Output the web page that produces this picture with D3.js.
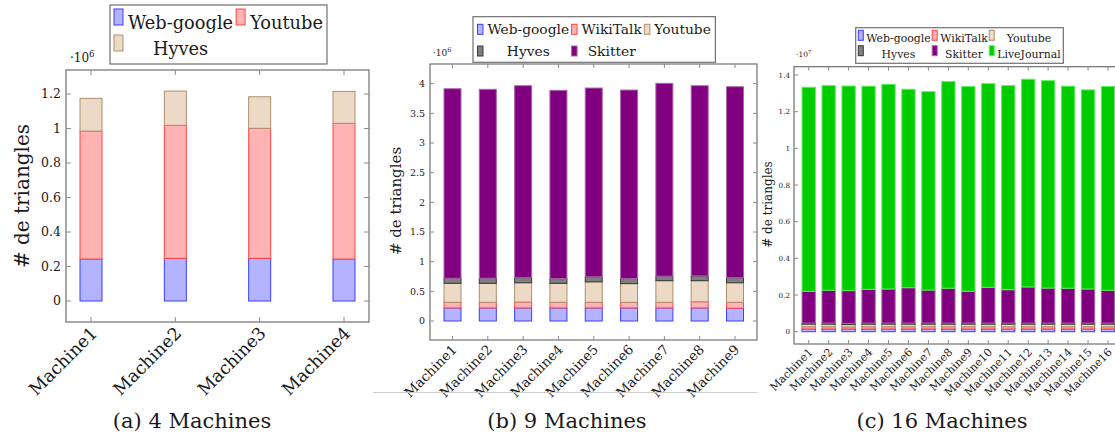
<!DOCTYPE html>
<html><head><meta charset="utf-8">
<script src="https://cdn.jsdelivr.net/npm/d3@7/dist/d3.min.js"></script>
<style>
body{margin:0;background:#fff}
svg{display:block}
text{font-family:"DejaVu Serif",serif;fill:#1a1a1a}
</style>
</head><body>
<svg id="chart" width="1115" height="438"></svg>
<script>
// ---------------- DATA ----------------
const machines4 = ["Machine1","Machine2","Machine3","Machine4"];
const machines9 = ["Machine1","Machine2","Machine3","Machine4","Machine5","Machine6","Machine7","Machine8","Machine9"];
const machines16 = ["Machine1","Machine2","Machine3","Machine4","Machine5","Machine6","Machine7","Machine8",
                    "Machine9","Machine10","Machine11","Machine12","Machine13","Machine14","Machine15","Machine16"];

// (a) 4 machines, values x10^6
const a_webgoogle = [0.243, 0.247, 0.247, 0.243];
const a_youtube   = [0.742, 0.771, 0.754, 0.787];
const a_hyves     = [0.190, 0.199, 0.183, 0.185];

// (b) 9 machines, values x10^6
const b_webgoogle = [0.220, 0.220, 0.220, 0.220, 0.220, 0.220, 0.220, 0.220, 0.215];
const b_wikitalk  = [0.095, 0.095, 0.100, 0.095, 0.095, 0.095, 0.095, 0.105, 0.100];
const b_youtube   = [0.320, 0.320, 0.325, 0.320, 0.345, 0.315, 0.365, 0.355, 0.330];
const b_hyves     = [0.085, 0.085, 0.085, 0.080, 0.085, 0.085, 0.075, 0.080, 0.085];
const b_skitter   = [3.195, 3.185, 3.236, 3.173, 3.182, 3.178, 3.251, 3.206, 3.219];

// (c) 16 machines, values x10^7
const c_webgoogle   = [0.015,0.015,0.015,0.015,0.015,0.015,0.015,0.015,0.015,0.015,0.015,0.015,0.015,0.015,0.015,0.015];
const c_wikitalk    = [0.012,0.012,0.011,0.012,0.012,0.012,0.012,0.012,0.012,0.012,0.012,0.012,0.012,0.012,0.012,0.012];
const c_youtube     = [0.014,0.014,0.013,0.014,0.014,0.014,0.014,0.014,0.014,0.014,0.014,0.014,0.014,0.014,0.014,0.014];
const c_hyves       = [0.006,0.006,0.006,0.006,0.006,0.006,0.006,0.006,0.006,0.006,0.006,0.006,0.006,0.006,0.006,0.006];
const c_skitter     = [0.173,0.179,0.179,0.184,0.186,0.193,0.180,0.190,0.173,0.195,0.182,0.197,0.191,0.190,0.186,0.179];
const c_livejournal = [1.113,1.116,1.116,1.108,1.116,1.082,1.082,1.127,1.117,1.111,1.113,1.133,1.131,1.102,1.086,1.111];

const ticksA = [0, 0.2, 0.4, 0.6, 0.8, 1, 1.2];
const ticksB = [0, 0.5, 1, 1.5, 2, 2.5, 3, 3.5, 4];
const ticksC = [0, 0.2, 0.4, 0.6, 0.8, 1, 1.2, 1.4];

const yTitle = "# de triangles";
const captions = ["(a) 4 Machines", "(b) 9 Machines", "(c) 16 Machines"];

// ---------------- STYLES ----------------
const STY = {
  blue:   {fill:"#b3b3ff", stroke:"#3d3dff"},
  red:    {fill:"#ffb3b3", stroke:"#ff4545"},
  brown:  {fill:"#ecd9c6", stroke:"#ad8f70"},
  gray:   {fill:"#7f7f7f", stroke:"#3a3a3a"},
  purple: {fill:"#800080", stroke:"#a866a8"},
  green:  {fill:"#00cc00", stroke:"#5cf05c"}
};

const svg = d3.select("#chart");

function drawPanel(cfg) {
  const g = svg.append("g");
  const f = cfg.frame;
  const y = d3.scaleLinear().domain(cfg.yDomain).range(cfg.yRange);
  const x = d3.scalePoint().domain(cfg.cats).range(cfg.xRange);

  const rows = cfg.cats.map((c, i) => {
    const r = {cat: c};
    cfg.series.forEach(s => r[s.name] = s.values[i]);
    return r;
  });
  const stack = d3.stack().keys(cfg.series.map(s => s.name))(rows);

  const clipId = "clip" + cfg.id;
  svg.append("clipPath").attr("id", clipId).append("rect")
    .attr("x", f.l).attr("y", f.t).attr("width", f.r - f.l).attr("height", f.b - f.t);

  const bars = g.append("g").attr("clip-path", `url(#${clipId})`);
  stack.forEach((layer, li) => {
    const s = cfg.series[li];
    bars.append("g").selectAll("rect").data(layer).join("rect")
      .attr("x", d => x(d.data.cat) - cfg.barW / 2)
      .attr("width", cfg.barW)
      .attr("y", d => y(d[1]))
      .attr("height", d => y(d[0]) - y(d[1]))
      .attr("fill", s.style.fill)
      .attr("stroke", s.style.stroke)
      .attr("stroke-width", 1);
  });

  const tickCol = "#8a8a8a";
  g.append("rect").attr("x", f.l).attr("y", f.t).attr("width", f.r - f.l).attr("height", f.b - f.t)
    .attr("fill", "none").attr("stroke", "#707070").attr("stroke-width", 1.2);

  const tl = cfg.tickLen;
  cfg.ticks.forEach(t => {
    const yy = y(t);
    g.append("line").attr("x1", f.l).attr("x2", f.l + tl).attr("y1", yy).attr("y2", yy).attr("stroke", tickCol);
    g.append("line").attr("x1", f.r - tl).attr("x2", f.r).attr("y1", yy).attr("y2", yy).attr("stroke", tickCol);
    g.append("text").attr("x", f.l - cfg.tickGap).attr("y", yy).attr("dy", "0.35em")
      .attr("text-anchor", "end").style("font-size", cfg.tickFont + "px").text(d3.format("~g")(t));
  });
  cfg.cats.forEach(c => {
    const xx = x(c);
    g.append("line").attr("x1", xx).attr("x2", xx).attr("y1", f.t).attr("y2", f.t + tl).attr("stroke", tickCol);
    g.append("line").attr("x1", xx).attr("x2", xx).attr("y1", f.b - tl).attr("y2", f.b).attr("stroke", tickCol);
    g.append("text")
      .attr("transform", `translate(${xx + cfg.xLab.dx},${f.b + cfg.xLab.dy}) rotate(-45)`)
      .attr("text-anchor", "end").attr("dy", "0.35em")
      .style("font-size", cfg.xLab.size + "px").text(c);
  });

  const ex = g.append("text").attr("x", cfg.exp.x).attr("y", cfg.exp.y).style("font-size", cfg.exp.size + "px");
  ex.append("tspan").text("·10");
  ex.append("tspan").attr("dy", -cfg.exp.size * 0.4).style("font-size", (cfg.exp.size * 0.72) + "px").text(cfg.exp.pow);

  g.append("text").attr("transform", `translate(${cfg.yLab.x},${cfg.yLab.y}) rotate(-90)`)
    .attr("text-anchor", "middle").attr("dy", "0.35em")
    .style("font-size", cfg.yLab.size + "px").text(yTitle);

  g.append("text").attr("x", cfg.caption.x).attr("y", cfg.caption.y).attr("text-anchor", "middle")
    .style("font-size", cfg.caption.size + "px").text(cfg.caption.text);

  const L = cfg.legend;
  const lg = g.append("g");
  const box = lg.append("rect").attr("fill", "#fff").attr("stroke", "#707070").attr("stroke-width", 1.2);
  const items = cfg.series.map((s, i) => ({s, col: i % L.cols, row: Math.floor(i / L.cols)}));
  items.forEach(it => {
    it.t = lg.append("text").style("font-size", L.size + "px").attr("text-anchor", "middle").text(it.s.name);
    it.w = it.t.node().getComputedTextLength();
  });
  const colW = d3.range(L.cols).map(c => d3.max(items.filter(it => it.col === c), it => it.w));
  let cur = L.x + L.pad;
  const colX = [];
  colW.forEach(w => { colX.push(cur); cur += L.sw + L.gap + w + L.colGap; });
  const right = cur - L.colGap + L.pad;
  items.forEach(it => {
    const cx = colX[it.col];
    const base = L.y + L.base0 + it.row * L.rowH;
    lg.append("rect").attr("x", cx).attr("y", base - L.swTop).attr("width", L.sw).attr("height", L.sh)
      .attr("fill", it.s.style.fill).attr("stroke", it.s.style.stroke).attr("stroke-width", 1);
    it.t.attr("x", cx + L.sw + L.gap + colW[it.col] / 2).attr("y", base);
  });
  box.attr("x", L.x).attr("y", L.y).attr("width", right - L.x).attr("height", L.h);
}

// (a)
drawPanel({
  id: "a", cats: machines4,
  frame: {l: 66, t: 70, r: 369, b: 322},
  yDomain: [0, 1.2], yRange: [301, 94], ticks: ticksA,
  xRange: [91, 344], barW: 22, tickLen: 5, tickGap: 5, tickFont: 12.5,
  xLab: {dx: 3, dy: 8, size: 17.5},
  exp: {x: 70, y: 62, size: 12, pow: "6"},
  yLab: {x: 22, y: 196, size: 20},
  caption: {x: 192, y: 428, size: 21, text: captions[0]},
  legend: {x: 110, y: 5, h: 59, cols: 2, size: 17.8, pad: 4, sw: 9, sh: 16, gap: 5, colGap: 3, base0: 24, rowH: 26, swTop: 20},
  series: [
    {name: "Web-google", values: a_webgoogle, style: STY.blue},
    {name: "Youtube", values: a_youtube, style: STY.red},
    {name: "Hyves", values: a_hyves, style: STY.brown}
  ]
});

// (b)
drawPanel({
  id: "b", cats: machines9,
  frame: {l: 430, t: 64, r: 757, b: 340},
  yDomain: [0, 4], yRange: [321, 83.7], ticks: ticksB,
  xRange: [452.5, 735], barW: 17, tickLen: 4, tickGap: 5, tickFont: 9.5,
  xLab: {dx: 2, dy: 7, size: 13.5},
  exp: {x: 433, y: 56, size: 9, pow: "6"},
  yLab: {x: 396, y: 201, size: 15},
  caption: {x: 567, y: 428, size: 21, text: captions[1]},
  legend: {x: 473, y: 16.7, h: 45.6, cols: 3, size: 13.8, pad: 4.5, sw: 5.5, sh: 10, gap: 4.5, colGap: 2.5, base0: 17.6, rowH: 21.7, swTop: 10},
  series: [
    {name: "Web-google", values: b_webgoogle, style: STY.blue},
    {name: "WikiTalk", values: b_wikitalk, style: STY.red},
    {name: "Youtube", values: b_youtube, style: STY.brown},
    {name: "Hyves", values: b_hyves, style: STY.gray},
    {name: "Skitter", values: b_skitter, style: STY.purple}
  ]
});

svg.append("line").attr("x1", 373).attr("x2", 758).attr("y1", 392.5).attr("y2", 392.5)
  .attr("stroke", "#cfcfcf").attr("stroke-width", 1);

// (c)
drawPanel({
  id: "c", cats: machines16,
  frame: {l: 794, t: 66.7, r: 1123, b: 344},
  yDomain: [0, 1.4], yRange: [331.7, 75], ticks: ticksC,
  xRange: [808.7, 1108], barW: 13.3, tickLen: 4, tickGap: 4, tickFont: 7.2,
  xLab: {dx: 2, dy: 6, size: 11},
  exp: {x: 796, y: 57, size: 7.5, pow: "7"},
  yLab: {x: 767.5, y: 204.5, size: 12},
  caption: {x: 942, y: 428, size: 21, text: captions[2]},
  legend: {x: 855.7, y: 27.7, h: 35.6, cols: 3, size: 10.9, pad: 2.6, sw: 5, sh: 10, gap: 3, colGap: 1.5, base0: 14.6, rowH: 15.4, swTop: 12},
  series: [
    {name: "Web-google", values: c_webgoogle, style: STY.blue},
    {name: "WikiTalk", values: c_wikitalk, style: STY.red},
    {name: "Youtube", values: c_youtube, style: STY.brown},
    {name: "Hyves", values: c_hyves, style: STY.gray},
    {name: "Skitter", values: c_skitter, style: STY.purple},
    {name: "LiveJournal", values: c_livejournal, style: STY.green}
  ]
});
</script>
</body></html>
